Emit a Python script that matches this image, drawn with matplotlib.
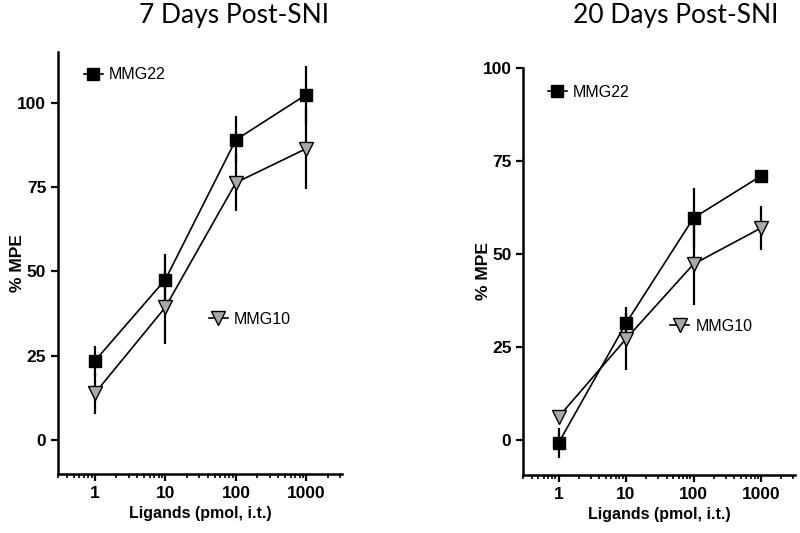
import matplotlib
matplotlib.use("Agg")
import matplotlib.pyplot as plt
from matplotlib.lines import Line2D

# doses (pmol, i.t.)
doses = [1, 10, 100, 1000]

# 7 days post-SNI
mmg22_d7 = [23.5, 47.6, 89.0, 102.4]
mmg22_d7_err = [4.5, 7.7, 7.0, 8.6]
mmg10_d7 = [13.9, 39.4, 76.3, 86.4]
mmg10_d7_err = [6.0, 11.0, 8.5, 12.0]

# 20 days post-SNI
mmg22_d20 = [-0.8, 31.4, 59.7, 71.0]
mmg22_d20_err = [4.0, 3.0, 8.0, 1.5]
mmg10_d20 = [6.2, 27.2, 47.3, 57.0]
mmg10_d20_err = [1.0, 8.5, 11.0, 6.0]

plt.rcParams["font.family"] = ["Liberation Sans", "DejaVu Sans"]

GRAY = "#a8a8a8"


def panel(ax, y22, e22, y10, e10, ylim, leg22, leg10, ylab_x):
    ax.errorbar(doses, y22, yerr=e22, color="black", lw=1.2, elinewidth=1.6,
                capsize=0, marker="s", ms=8.5, mfc="black", mec="black", zorder=3)
    ax.errorbar(doses, y10, yerr=e10, color="black", lw=1.2, elinewidth=1.6,
                capsize=0, marker="v", ms=9.5, mfc=GRAY, mec="black", mew=1.0,
                zorder=4)
    ax.set_xscale("log")
    ax.set_xlim(0.3, 3200)
    ax.set_ylim(*ylim)
    ax.set_xticks(doses)
    ax.set_xticklabels([str(d) for d in doses])
    ax.set_yticks([0, 25, 50, 75, 100])
    for s in ("top", "right"):
        ax.spines[s].set_visible(False)
    for s in ("left", "bottom"):
        ax.spines[s].set_linewidth(1.8)
    ax.tick_params(which="major", length=5, width=1.6, labelsize=12.5)
    ax.tick_params(which="minor", length=3, width=1.2)
    ax.tick_params(axis="y", which="minor", left=False)
    for lab in ax.get_xticklabels() + ax.get_yticklabels():
        lab.set_fontweight("bold")
    ax.set_xlabel("Ligands (pmol, i.t.)", fontsize=11.5, fontweight="bold")
    ax.set_ylabel("% MPE", fontsize=12.5, fontweight="bold")
    ax.yaxis.set_label_coords(ylab_x, 0.5)

    h22 = Line2D([], [], color="black", lw=1.2, marker="s", ms=8.5, mfc="black")
    h10 = Line2D([], [], color="black", lw=1.2, marker="v", ms=9.5, mfc=GRAY,
                 mec="black")
    l1 = ax.legend([h22], ["MMG22"], loc="center left", bbox_to_anchor=leg22,
                   frameon=False, handlelength=1.2, handletextpad=0.4,
                   fontsize=11.5, borderaxespad=0, borderpad=0)
    ax.add_artist(l1)
    ax.legend([h10], ["MMG10"], loc="center left", bbox_to_anchor=leg10,
              frameon=False, handlelength=1.2, handletextpad=0.4,
              fontsize=11.5, borderaxespad=0, borderpad=0)


fig = plt.figure(figsize=(8, 5.33), dpi=100)
ax1 = fig.add_axes([0.0725, 0.1107, 0.355, 0.7917])
ax2 = fig.add_axes([0.654, 0.1088, 0.34, 0.7636])

panel(ax1, mmg22_d7, mmg22_d7_err, mmg10_d7, mmg10_d7_err, (-10, 115),
      (0.09, 0.946), (0.53, 0.367), -0.117)
panel(ax2, mmg22_d20, mmg22_d20_err, mmg10_d20, mmg10_d20_err, (-9.4, 100),
      (0.09, 0.94), (0.54, 0.365), -0.12)

fig.text(0.2925, 0.97, "7 Days Post-SNI", ha="center", va="center",
         fontsize=19, family=["Lato", "DejaVu Sans"])
fig.text(0.845, 0.97, "20 Days Post-SNI", ha="center", va="center",
         fontsize=19, family=["Lato", "DejaVu Sans"])

fig.savefig("out.png", dpi=100, facecolor="white")
